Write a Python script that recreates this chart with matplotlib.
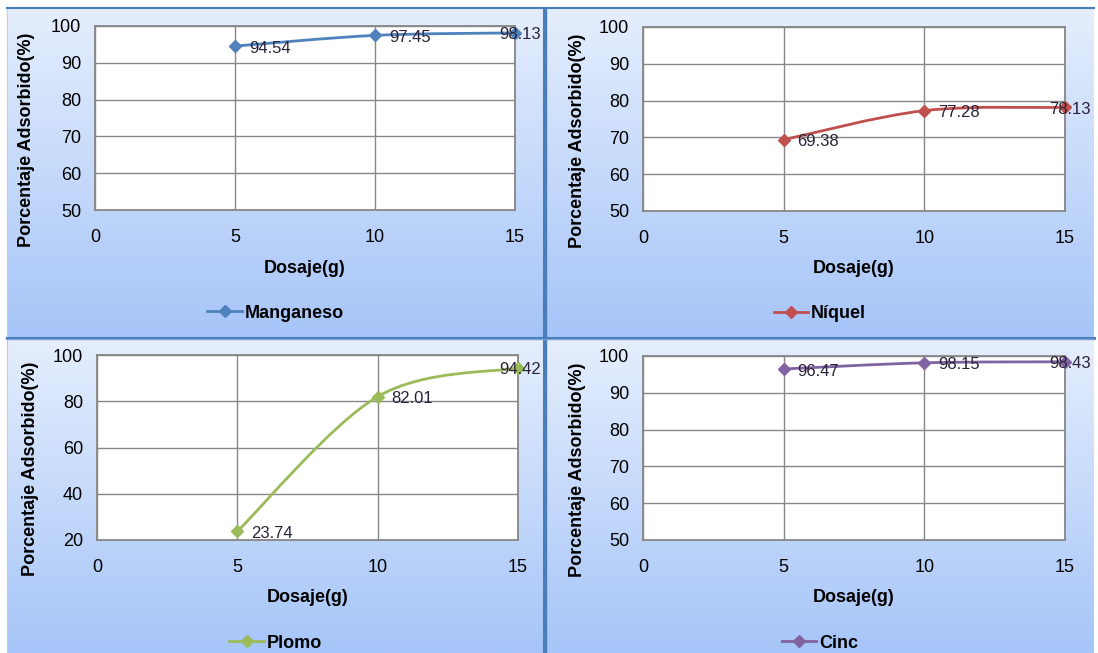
import numpy as np
import matplotlib.pyplot as plt
from matplotlib.path import Path
from matplotlib.patches import PathPatch
from matplotlib.lines import Line2D
from matplotlib.colors import LinearSegmentedColormap

plt.rcParams['font.family'] = ['Liberation Sans', 'DejaVu Sans']

# data
dosaje = [5, 10, 15]
manganeso = [94.54, 97.45, 98.13]
niquel = [69.38, 77.28, 78.13]
plomo = [23.74, 82.01, 94.42]
cinc = [96.47, 98.15, 98.43]

x_ticks = [0, 5, 10, 15]
y_ticks = [50, 60, 70, 80, 90, 100]
y_ticks_plomo = [20, 40, 60, 80, 100]

W, H = 1098, 653


def px_rect(x0, y0, x1, y1):
    return [x0 / W, 1 - y1 / H, (x1 - x0) / W, (y1 - y0) / H]


def smooth_path(xs, ys):
    # bezier through the points, like the "smoothed line" of a spreadsheet
    pts = np.column_stack([xs, ys]).astype(float)
    n = len(pts)
    verts = [pts[0]]
    codes = [Path.MOVETO]
    for i in range(n - 1):
        p_prev = pts[max(i - 1, 0)]
        p0 = pts[i]
        p1 = pts[i + 1]
        p_next = pts[min(i + 2, n - 1)]
        verts += [p0 + (p1 - p_prev) / 6, p1 - (p_next - p0) / 6, p1]
        codes += [Path.CURVE4] * 3
    return Path(verts, codes)


bg_cmap = LinearSegmentedColormap.from_list('bg', ['#a6c5f8', '#e5eefd'])
border = '#4a7ebb'
grid_c = '#878787'

fig = plt.figure(figsize=(W / 100, H / 100), dpi=100)

panels = [
    # name, values, color, yticks, chart area, plot area, ylabel x, bottom row
    ('Manganeso', manganeso, '#4f81bd', y_ticks, (7, 8, 544, 338), (95, 26, 515, 210), 27, False),
    ('Níquel', niquel, '#c0504d', y_ticks, (546, 8, 1094, 338), (643, 27, 1065, 211), 577, False),
    ('Plomo', plomo, '#9bbb59', y_ticks_plomo, (7, 339, 544, 653), (97, 355, 518, 540), 31, True),
    ('Cinc', cinc, '#8064a2', y_ticks, (546, 339, 1094, 653), (643, 356, 1065, 540), 577, True),
]

for name, vals, color, yt, chart, plot, ylab_x, bottom_row in panels:
    bg = fig.add_axes(px_rect(*chart), zorder=0)
    grad = np.linspace(0, 1, 256).reshape(-1, 1)
    bg.imshow(grad, cmap=bg_cmap, aspect='auto', extent=[0, 1, 0, 1], origin='lower')
    bg.set_xticks([])
    bg.set_yticks([])
    for side, sp in bg.spines.items():
        sp.set_color(border)
        sp.set_linewidth(1.5)
    bg.spines['left'].set_color('#b8cff0')
    bg.spines['left'].set_linewidth(0.8)
    if chart[0] > 500:
        bg.spines['right'].set_visible(False)
        bg.spines['left'].set_color(border)
        bg.spines['left'].set_linewidth(1.0)
    else:
        bg.spines['right'].set_linewidth(2.2)
    if bottom_row:
        bg.spines['bottom'].set_visible(False)
        bg.spines['top'].set_linewidth(1.0)
        bg.spines['top'].set_color('#7aa0d4')
    else:
        bg.spines['bottom'].set_linewidth(2.2)

    ax = fig.add_axes(px_rect(*plot), zorder=2)
    ax.set_facecolor('white')
    ax.set_xlim(0, 15)
    ax.set_ylim(yt[0], yt[-1])
    ax.set_xticks(x_ticks)
    ax.set_yticks(yt)
    ax.grid(True, color=grid_c, linewidth=1.0)
    ax.set_axisbelow(True)
    for sp in ax.spines.values():
        sp.set_color(grid_c)
        sp.set_linewidth(1.3)
    ax.tick_params(axis='x', length=0, pad=14, labelsize=13)
    ax.tick_params(axis='y', length=0, pad=10, labelsize=13)

    ax.add_patch(PathPatch(smooth_path(dosaje, vals), fill=False, edgecolor=color,
                           linewidth=2.0, zorder=3, clip_on=False))
    ax.plot(dosaje, vals, linestyle='none', marker='D', markersize=6.5, color=color,
            zorder=4, clip_on=False)

    px0, py0, px1, py1 = plot
    for i, (xv, yv) in enumerate(zip(dosaje, vals)):
        if i == len(dosaje) - 1:
            # last label is pushed back inside the chart area
            off, ha = ((chart[2] - 3 - px1) * 0.72, -1.5), 'right'
        else:
            off, ha = (10, -1.5), 'left'
        ax.annotate('%.2f' % yv, (xv, yv), xytext=off, textcoords='offset points',
                    ha=ha, va='center', fontsize=12, color='#2a2238', zorder=5,
                    annotation_clip=False)

    fig.text(ylab_x / W, 1 - (py0 + 114) / H, 'Porcentaje Adsorbido(%)',
             rotation=90, ha='center', va='center', fontsize=13, fontweight='bold')
    fig.text((px0 + px1) / 2 / W, 1 - (py1 + 58) / H, 'Dosaje(g)',
             ha='center', va='center', fontsize=13, fontweight='bold')

    handle = Line2D([], [], color=color, linewidth=2.0, marker='D', markersize=6.5)
    fig.legend(handles=[handle], labels=[name], loc='center',
               bbox_to_anchor=((chart[0] + chart[2]) / 2 / W, 1 - (py1 + 103) / H),
               frameon=False, handlelength=1.9, handletextpad=0.15,
               prop={'size': 13, 'weight': 'bold'})

fig.savefig('out.png', dpi=100)
